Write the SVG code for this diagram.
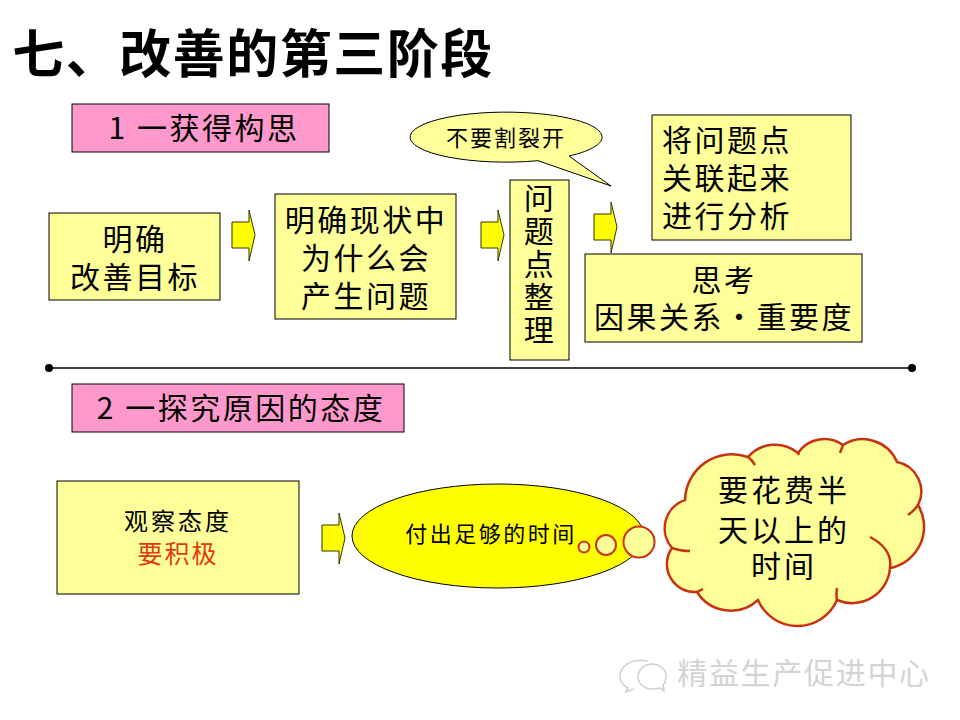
<svg xmlns="http://www.w3.org/2000/svg" width="960" height="720" viewBox="0 0 960 720">
<defs>
<style>
text{font-family:"Noto Sans CJK SC","Liberation Sans",sans-serif;fill:#000;text-anchor:middle}
.b{fill:#ffff99;stroke:#000;stroke-width:1}
.p{fill:#ff99cc;stroke:#000;stroke-width:1}
.a{fill:#ffff00;stroke:#333300;stroke-width:1}
.t{font-size:30px;letter-spacing:2.5px}
.s{text-anchor:start}
.c{fill:none;stroke:#c83214;stroke-width:2.5}
.d{fill:#ffff99;stroke:#c83214;stroke-width:2}
.w{fill:none;stroke:#cfcfcf;stroke-width:1.5}
</style>
<path id="arr" class="a" d="M0 0H17V-12L23 13L17 39V26H0Z"/>
</defs>
<rect width="960" height="720" fill="#fff"/>
<text x="253" y="73" font-size="52" font-weight="bold" style="letter-spacing:1.5px">七、改善的第三阶段</text>
<g id="connectors">
<use href="#arr" x="232" y="222"/>
<use href="#arr" x="481" y="222"/>
<use href="#arr" x="594" y="214"/>
<use href="#arr" x="322" y="525"/>
<line x1="49" y1="368" x2="912" y2="368" stroke="#000" stroke-width="1.5"/>
<circle cx="49" cy="368" r="4" fill="#000"/>
<circle cx="912" cy="368" r="4" fill="#000"/>
</g>
<g id="label1"><rect class="p" x="72" y="104" width="257" height="48"/><text class="t" x="204" y="139">1 一获得构思</text></g>
<g id="callout"><path class="b" d="M569 156A96 25 0 1 0 538 160.7L611 186Z"/><text x="506" y="146" font-size="22" style="letter-spacing:2px">不要割裂开</text></g>
<g id="n1"><rect class="b" x="49" y="213" width="171" height="87"/><text class="t" x="135" y="250">明确</text><text class="t" x="135" y="288">改善目标</text></g>
<g id="n2"><rect class="b" x="275" y="194" width="181" height="125"/><text class="t" x="366" y="231">明确现状中</text><text class="t" x="366" y="269">为什么会</text><text class="t" x="366" y="307">产生问题</text></g>
<g id="n3"><rect class="b" x="510" y="180" width="59" height="180"/><text class="t" x="540" y="209"><tspan x="540">问</tspan><tspan x="540" dy="33">题</tspan><tspan x="540" dy="33">点</tspan><tspan x="540" dy="33">整</tspan><tspan x="540" dy="33">理</tspan></text></g>
<g id="n4"><rect class="b" x="652" y="115" width="199" height="125"/><text class="t s" x="662" y="151">将问题点</text><text class="t s" x="662" y="189">关联起来</text><text class="t s" x="662" y="227">进行分析</text></g>
<g id="n5"><rect class="b" x="585" y="254" width="277" height="88"/><text class="t" x="724" y="291">思考</text><text class="t" x="724" y="328">因果关系・重要度</text></g>
<g id="label2"><rect class="p" x="72" y="384" width="332" height="48"/><text class="t" x="241" y="419">2 一探究原因的态度</text></g>
<g id="n6"><rect class="b" x="57" y="481" width="242" height="113"/><text x="178" y="530" font-size="24" style="letter-spacing:3px">观察态度</text><text x="178" y="563" font-size="25" style="fill:#e03a10;letter-spacing:2px">要积极</text></g>
<g id="thought"><ellipse cx="498" cy="536" rx="146" ry="52" fill="#ffff00" stroke="#000"/><text x="491" y="542" font-size="22" style="letter-spacing:2.5px">付出足够的时间</text>
<circle class="d" cx="584" cy="547" r="5.5"/><circle class="d" cx="606" cy="545" r="10"/><circle class="d" cx="639" cy="542" r="15.5"/></g>
<g id="cloud">
<path d="M685 500A47 47 0 0 1 748 457A36 36 0 0 1 798 453A32 32 0 0 1 843 445A37 37 0 0 1 897 462A30 30 0 0 1 918 505A42 42 0 0 1 890 568A38 38 0 0 1 837 600A43 43 0 0 1 758 600A40 40 0 0 1 697 592A28 28 0 0 1 672 548A30 30 0 0 1 685 500Z" fill="#ffff99" stroke="#c83214" stroke-width="2.5"/>
<path class="c" d="M748 457Q752 460 755 465M798 453L799 455M843 445L840 453M918 505Q914 511 908 515M870 537C885 545 892 555 890 568M837 600Q836 594 837 588M697 592L703 589M672 548Q680 551 690 551"/>
<text x="784" y="501" font-size="30" style="letter-spacing:3px">要花费半</text><text x="784" y="541" font-size="30" style="letter-spacing:3px">天以上的</text><text x="784" y="577" font-size="30" style="letter-spacing:3px">时间</text>
</g>
<g id="watermark"><path class="w" d="M648 661C632 658 620 666 620 676C620 682 624 686 628 688L626 692L634 689"/><path class="w" d="M666 676C666 668 658 664 652 664C644 664 638 670 638 677C638 684 645 689 652 689C655 689 658 688 660 688L664 691L663 685C665 683 666 680 666 676Z"/><text x="804" y="684" font-size="30" style="fill:#d4d4d4;letter-spacing:1.7px">精益生产促进中心</text></g>
</svg>
